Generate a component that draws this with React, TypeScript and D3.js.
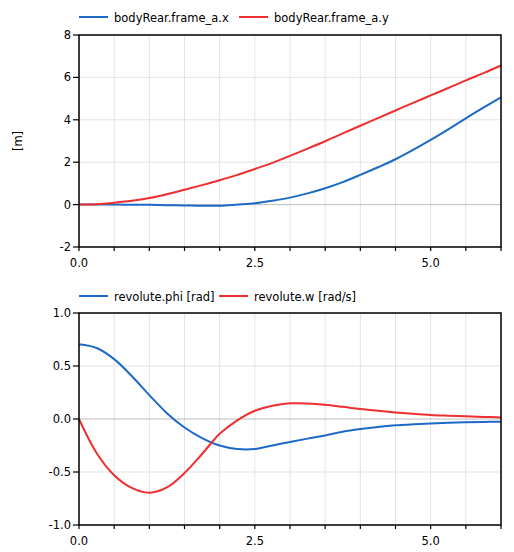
import React, { useEffect } from 'react'
import * as d3 from 'd3'

const times = [0, 0.25, 0.5, 0.75, 1, 1.25, 1.5, 1.75, 2, 2.25, 2.5, 2.75, 3, 3.25, 3.5, 3.75, 4, 4.25, 4.5, 4.75, 5, 5.25, 5.5, 5.75, 6]

const frameX = [0, 0, 0, -0.005, -0.01, -0.025, -0.04, -0.055, -0.05, 0.0, 0.06, 0.18, 0.33, 0.53, 0.77, 1.06, 1.4, 1.76, 2.14, 2.58, 3.05, 3.55, 4.07, 4.57, 5.06]
const frameY = [0, 0.02, 0.09, 0.18, 0.31, 0.49, 0.7, 0.92, 1.15, 1.4, 1.68, 1.97, 2.3, 2.64, 2.99, 3.36, 3.72, 4.08, 4.44, 4.8, 5.15, 5.5, 5.86, 6.2, 6.56]

const phi = [0.705, 0.67, 0.565, 0.405, 0.225, 0.055, -0.08, -0.18, -0.25, -0.283, -0.283, -0.25, -0.217, -0.185, -0.155, -0.12, -0.095, -0.075, -0.06, -0.05, -0.042, -0.036, -0.031, -0.028, -0.025]
const omega = [0, -0.32, -0.53, -0.65, -0.695, -0.645, -0.51, -0.33, -0.14, -0.013, 0.078, 0.125, 0.148, 0.147, 0.135, 0.115, 0.094, 0.077, 0.062, 0.049, 0.038, 0.031, 0.025, 0.02, 0.015]

const topTicks = [-2, 0, 2, 4, 6, 8]
const bottomTicks = [-1, -0.5, 0, 0.5, 1]
const xTicks = [0, 0.5, 1, 1.5, 2, 2.5, 3, 3.5, 4, 4.5, 5, 5.5, 6]
const xLabels = [0, 2.5, 5]

const BLUE = '#1c6ac6'
const RED = '#ee2e2f'
const FONT = '"DejaVu Sans", Verdana, sans-serif'
const FS = 11.5

interface Series { name: string; values: number[]; color: string; legendX: number }

interface PanelProps {
  top: number
  bottom: number
  domain: [number, number]
  ticks: number[]
  fmt: (v: number) => string
  series: Series[]
  legendY: number
  yLabel?: string
}

const x = d3.scaleLinear().domain([0, 6]).range([79, 501])

const Panel: React.FC<PanelProps> = ({ top, bottom, domain, ticks, fmt, series, legendY, yLabel }) => {
  const y = d3.scaleLinear().domain(domain).range([bottom, top])
  const [x0, x1] = x.range()
  return (
    <g>
      {xTicks.map(t => (
        <line key={'vg' + t} x1={x(t)} x2={x(t)} y1={top} y2={bottom} stroke="#e3e3e3" strokeWidth={1} />
      ))}
      {ticks.map(t => (
        <line key={'hg' + t} x1={x0} x2={x1} y1={y(t)} y2={y(t)} stroke={t === 0 ? '#bdbdbd' : '#e3e3e3'} strokeWidth={1} />
      ))}
      {series.map(s => {
        const line = d3.line<number>()
          .x((_, i) => x(times[i]))
          .y(d => y(d))
          .curve(d3.curveCatmullRom.alpha(0.5))
        return <path key={s.name} d={line(s.values) ?? ''} fill="none" stroke={s.color} strokeWidth={2} />
      })}
      <rect x={x0} y={top} width={x1 - x0} height={bottom - top} fill="none" stroke="#000" strokeWidth={1.5} />
      {ticks.map(t => (
        <g key={'yt' + t}>
          <line x1={x0 - 6} x2={x0} y1={y(t)} y2={y(t)} stroke="#000" strokeWidth={1.2} />
          <text x={x0 - 8} y={y(t) + 4} textAnchor="end" fontSize={FS} fontFamily={FONT} fill="#000">{fmt(t)}</text>
        </g>
      ))}
      {xTicks.map(t => (
        <line key={'xt' + t} x1={x(t)} x2={x(t)} y1={bottom} y2={bottom + 4} stroke="#000" strokeWidth={1.2} />
      ))}
      {xLabels.map(t => (
        <text key={'xl' + t} x={x(t)} y={bottom + 20} textAnchor="middle" fontSize={FS} fontFamily={FONT} fill="#000">{t.toFixed(1)}</text>
      ))}
      {series.map(s => (
        <g key={'lg' + s.name}>
          <line x1={s.legendX} x2={s.legendX + 29} y1={legendY} y2={legendY} stroke={s.color} strokeWidth={2} />
          <text x={s.legendX + 35} y={legendY + 4.5} fontSize={FS} fontFamily={FONT} fill="#000">{s.name}</text>
        </g>
      ))}
      {yLabel && (
        <text transform={`translate(22,141) rotate(-90)`} textAnchor="middle" fontSize={FS} fontFamily={FONT} fill="#000">{yLabel}</text>
      )}
    </g>
  )
}

export default function App() {
  useEffect(() => {
    document.body.style.margin = '0'
  }, [])
  return (
    <svg width={514} height={552} style={{ display: 'block', background: '#fff' }}>
      <Panel
        top={35}
        bottom={247}
        domain={[-2, 8]}
        ticks={topTicks}
        fmt={v => String(v)}
        legendY={17}
        yLabel="[m]"
        series={[
          { name: 'bodyRear.frame_a.x', values: frameX, color: BLUE, legendX: 79 },
          { name: 'bodyRear.frame_a.y', values: frameY, color: RED, legendX: 239 },
        ]}
      />
      <Panel
        top={313}
        bottom={525}
        domain={[-1, 1]}
        ticks={bottomTicks}
        fmt={v => v.toFixed(1)}
        legendY={296}
        series={[
          { name: 'revolute.phi [rad]', values: phi, color: BLUE, legendX: 79 },
          { name: 'revolute.w [rad/s]', values: omega, color: RED, legendX: 219 },
        ]}
      />
    </svg>
  )
}
